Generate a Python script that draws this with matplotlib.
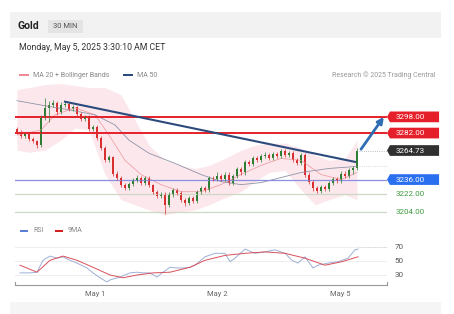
import matplotlib
matplotlib.use("Agg")
import matplotlib.pyplot as plt
from matplotlib.patches import Rectangle, Polygon
from matplotlib.transforms import blended_transform_factory

plt.rcParams['font.family'] = ['Roboto', 'DejaVu Sans']

W, H = 454, 314

# ---- data (candle index i ~ one 30 min bar) ----
closes = [3283, 3279, 3281, 3276, 3274, 3270, 3297, 3307, 3310, 3312,
          3303, 3310, 3311, 3306, 3308, 3301, 3296, 3298, 3286, 3288,
          3277, 3267, 3255, 3258, 3242, 3238, 3231, 3228, 3232, 3236,
          3238, 3233, 3238, 3231, 3224, 3220, 3222, 3211, 3221, 3226,
          3223, 3216, 3213, 3218, 3215, 3224, 3228, 3226, 3238, 3237,
          3240, 3237, 3241, 3233, 3240, 3246, 3243, 3253, 3251, 3257,
          3255, 3259, 3260, 3257, 3261, 3259, 3264, 3260, 3262, 3255,
          3252, 3260, 3241, 3234, 3228, 3225, 3229, 3227, 3233, 3237,
          3235, 3242, 3240, 3245, 3247, 3264.73]
first_open = 3286
wick_hi = [2, 2, 1, 2, 2, 1, 3, 10, 4, 3, 2, 3, 2, 2, 2, 1, 2, 2, 2, 2,
           2, 2, 2, 2, 1, 2, 2, 2, 2, 2, 3, 2, 2, 2, 1, 2, 2, 2, 3, 2,
           2, 2, 2, 2, 2, 2, 2, 2, 2, 2, 3, 2, 2, 2, 2, 2, 2, 2, 2, 2,
           2, 2, 3, 2, 2, 2, 2, 2, 2, 2, 2, 2, 2, 2, 2, 2, 2, 2, 2, 2,
           2, 2, 2, 2, 2, 2]
wick_lo = [2, 2, 2, 2, 2, 3, 2, 2, 14, 2, 3, 2, 2, 2, 2, 2, 2, 2, 2, 2,
           2, 2, 2, 2, 2, 2, 2, 2, 2, 2, 2, 2, 2, 2, 2, 2, 2, 9, 2, 2,
           2, 2, 3, 2, 2, 2, 2, 2, 2, 2, 2, 2, 2, 2, 2, 2, 2, 2, 2, 2,
           2, 2, 2, 2, 2, 2, 2, 2, 2, 2, 2, 2, 2, 2, 3, 2, 2, 2, 2, 2,
           2, 2, 2, 2, 3, 2]

bb_x = [0, 3, 7, 11, 14.5, 18, 22, 26, 29.5, 33, 37, 41, 44.5, 48, 52, 56,
        59.5, 63, 67, 71, 74.5, 78, 82, 85]
bb_upper = [3325, 3327, 3330, 3331, 3329, 3327, 3327, 3320, 3295, 3270, 3255, 3250,
            3247, 3250, 3257, 3265, 3270, 3272, 3272, 3267, 3260, 3255, 3257, 3275]
bb_lower = [3265, 3263, 3265, 3275, 3287, 3285, 3241, 3216, 3211, 3206, 3201, 3204,
            3206, 3211, 3218, 3224, 3234, 3243, 3245, 3226, 3211, 3216, 3221, 3216]

ma20_x = [0, 6, 9.5, 14.5, 19.5, 23, 27, 31, 36, 41, 46, 51, 56, 61, 66, 71, 76, 81, 85]
ma20 = [3280, 3285, 3300, 3307, 3300, 3280, 3255, 3241, 3231, 3224, 3224, 3231,
        3241, 3250, 3257, 3255, 3241, 3236, 3243]

ma50_x = [0, 7, 13, 19.5, 24.5, 28, 33, 39.5, 46, 51, 56, 61, 66, 71, 78, 85]
ma50 = [3314, 3309, 3305, 3300, 3290, 3275, 3262, 3252, 3241, 3234, 3231, 3233,
        3238, 3243, 3247, 3249]

trend_x = [12, 84.5]
trend_y = [3313, 3253.5]

levels_red = [3298.00, 3282.00]
level_last = 3264.73
level_blue = 3236.00
levels_green = [3222.00, 3204.00]

rsi_x = [0.75, 3.25, 5, 6.5, 8.25, 10, 11.5, 13.25, 15, 17.5, 19, 20.75, 22.5, 23.25,
         25.75, 28.25, 30, 31.5, 33.25, 35, 36.5, 38.25, 40, 41.5, 43.25, 44.5, 47,
         49.5, 52, 53.25, 54.5, 57, 59.5, 62, 64.5, 67, 68.75, 70.25, 72, 74, 75.25,
         77.75, 80.25, 82.75, 84.5, 85.25]
rsi = [33, 33, 34, 51, 57, 54, 56, 51, 47, 40, 33, 26, 20, 23, 27, 33, 34, 33, 33,
       27, 34, 41, 40, 40, 41, 44, 56, 61, 61, 49, 54, 67, 61, 63, 66, 61, 51, 47,
       56, 40, 44, 47, 49, 54, 66, 67]
ma9_x = [0.75, 5, 8.25, 11.5, 15, 19, 23.25, 26.5, 30, 34, 38.25, 43.25, 47, 52, 57,
         62, 67, 72, 77, 81.25, 85.25]
ma9 = [44, 34, 51, 57, 51, 41, 30, 26, 30, 33, 34, 41, 51, 58, 61, 63, 61, 54, 44,
       49, 56]

day_ticks = [19.5, 50, 80.75]
day_labels = ['May 1', 'May 2', 'May 5']


def fx(x):
    return x / W


def fy(y):
    return 1 - y / H


fig = plt.figure(figsize=(W / 100, H / 100), dpi=100)
fig.patch.set_facecolor('white')

# card background
fig.add_artist(Rectangle((fx(10), fy(38)), fx(431), 26 / H, color='#f2f2f2', lw=0))
fig.add_artist(Rectangle((fx(10), fy(314)), fx(431), 12 / H, color='#f5f5f5', lw=0))
fig.add_artist(Rectangle((fx(48), fy(33)), fx(35), 13 / H, color='#e4e4e4', lw=0))

fig.text(fx(18), fy(26), 'Gold', fontsize=7.5, fontweight='bold', color='#222', va='center')
fig.text(fx(65.5), fy(26.5), '30 MIN', fontsize=5.5, color='#555', va='center', ha='center')
fig.text(fx(19), fy(47.5), 'Monday, May 5, 2025 3:30:10 AM CET', fontsize=6.3,
         color='#333', va='center')

# legends
fig.add_artist(Rectangle((fx(19), fy(76)), fx(10), 2 / H, color='#f08895', lw=0))
fig.text(fx(33), fy(75), 'MA 20 + Bollinger Bands', fontsize=5, color='#888', va='center')
fig.add_artist(Rectangle((fx(123), fy(76)), fx(10), 2 / H, color='#2c4a7c', lw=0))
fig.text(fx(137), fy(75), 'MA 50', fontsize=5, color='#888', va='center')
fig.text(fx(435), fy(75), 'Research \u00a9 2025 Trading Central', fontsize=5,
         color='#999', va='center', ha='right')

fig.add_artist(Rectangle((fx(20), fy(232)), fx(8), 2 / H, color='#5b7fd6', lw=0))
fig.text(fx(33), fy(231), 'RSI', fontsize=5, color='#888', va='center')
fig.add_artist(Rectangle((fx(55), fy(232)), fx(8), 2 / H, color='#d62020', lw=0))
fig.text(fx(68), fy(231), '9MA', fontsize=5, color='#888', va='center')

# ---- price panel ----
ax = fig.add_axes([fx(15), fy(218), fx(372), (218 - 83) / H])
ax.set_xlim(-0.5, 92.5)
ax.set_ylim(3198, 3331.5)
ax.axis('off')

ax.fill_between(bb_x, bb_lower, bb_upper, color='#fbdde2', alpha=0.65, lw=0)
ax.plot(ma20_x, ma20, color='#f0a0a8', lw=0.6)
ax.plot(ma50_x, ma50, color='#8f93a8', lw=0.6)

tr = blended_transform_factory(ax.transAxes, ax.transData)
for lv in levels_green:
    ax.plot([0, 1], [lv, lv], color='#cfd8c4', lw=0.9, transform=tr)
ax.plot([0, 1], [level_blue, level_blue], color='#8c8fe0', lw=0.9, transform=tr)
for lv in levels_red:
    ax.plot([0, 1], [lv, lv], color='#e5202a', lw=1.4, transform=tr)

n = len(closes)
opens = [first_open] + closes[:-1]
for i in range(n):
    o, c = opens[i], closes[i]
    col = '#2f7d32' if c >= o else '#d83030'
    hi = max(o, c) + wick_hi[i]
    lo = min(o, c) - wick_lo[i]
    ax.vlines(i, lo, hi, color=col, lw=0.5)
    h = c - o if abs(c - o) > 0.6 else 0.6
    ax.bar(i, h, bottom=o, width=0.6, color=col, lw=0)

ax.plot(trend_x, trend_y, color='#2c4a7c', lw=1.5)
ax.annotate('', xy=(91.7, 3298), xytext=(86, 3266),
            arrowprops=dict(arrowstyle='-|>', color='#2f6db5', lw=2,
                            mutation_scale=9, shrinkA=0, shrinkB=0))

ax.plot([n - 0.5, 92.5], [level_last, level_last], color='#aaaaaa', lw=0.6, ls=':')
ax.plot([n - 0.5, 92.5], [ma50[-1], ma50[-1]], color='#cccccc', lw=0.6, ls=':')


def tag(y, text, color):
    hh = 5.3
    pts = [(1.0, y), (1.008, y + hh), (1.14, y + hh), (1.14, y - hh), (1.008, y - hh)]
    ax.add_patch(Polygon(pts, closed=True, color=color, lw=0, transform=tr, clip_on=False))
    ax.text(1.022, y, text, color='white', fontsize=5.8, va='center', ha='left',
            transform=tr, clip_on=False)


for lv in levels_red:
    tag(lv, f'{lv:.2f}', '#e5202a')
tag(level_last, f'{level_last:.2f}', '#303030')
tag(level_blue, f'{level_blue:.2f}', '#2a6ff0')
for lv in levels_green:
    ax.text(1.022, lv, f'{lv:.2f}', color='#3f9a3f', fontsize=5.8, va='center',
            ha='left', transform=tr, clip_on=False)

# ---- RSI panel ----
ax2 = fig.add_axes([fx(15), fy(285), fx(372), (285 - 240) / H])
ax2.set_xlim(-0.5, 92.5)
ax2.set_ylim(15.7, 80)
for s in ['top', 'right', 'left']:
    ax2.spines[s].set_visible(False)
ax2.spines['bottom'].set_color('#999999')
ax2.spines['bottom'].set_linewidth(0.8)
for lv in [70, 50, 30]:
    ax2.axhline(lv, color='#eeeeee', lw=0.7)
    ax2.text(1.02, lv, str(lv), transform=blended_transform_factory(ax2.transAxes, ax2.transData),
             fontsize=5.8, color='#555', va='center', ha='left')
ax2.plot(rsi_x, rsi, color='#9db0d8', lw=0.7)
ax2.plot(ma9_x, ma9, color='#d9505a', lw=0.7)
ax2.plot([n - 0.5, 92.5], [70, 70], color='#cccccc', lw=0.6, ls=':')
ax2.plot([0, 0], [0, 0.07], color='#999999', lw=0.8, transform=ax2.transAxes, clip_on=False)
ax2.plot([1, 1], [0, 0.07], color='#999999', lw=0.8, transform=ax2.transAxes, clip_on=False)
ax2.set_yticks([])
ax2.set_xticks(day_ticks)
ax2.set_xticklabels(day_labels, fontsize=5.5, color='#666')
ax2.tick_params(axis='x', length=0, pad=4)

fig.savefig('out.png', dpi=100, facecolor='white')
